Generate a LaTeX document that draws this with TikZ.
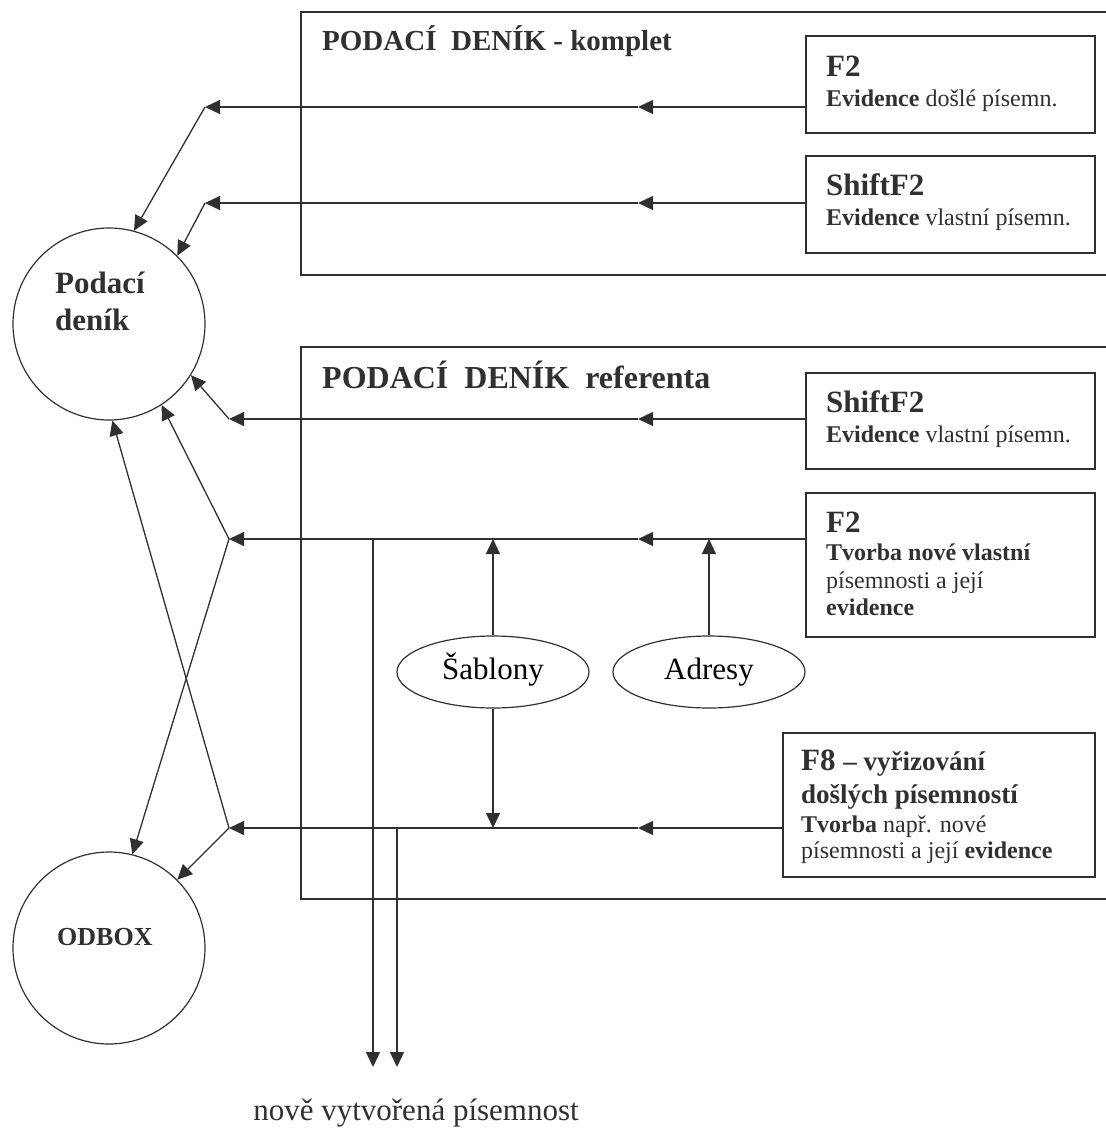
\documentclass[tikz,border=0pt]{standalone}
\usepackage{fontspec}
\setmainfont{Liberation Serif}
\usetikzlibrary{arrows.meta,shapes.geometric}
\definecolor{ink}{HTML}{303033}
\newcommand{\szkey}{\fontsize{31}{36}\selectfont}
\newcommand{\sztit}{\fontsize{29}{34}\selectfont}
\newcommand{\szref}{\fontsize{32}{38}\selectfont}
\newcommand{\szsub}{\fontsize{24}{28}\selectfont}
\newcommand{\szmid}{\fontsize{27}{32}\selectfont}
\newcommand{\szodb}{\fontsize{26}{30}\selectfont}
\tikzset{
  ln/.style={draw=ink, line width=1.3pt},
  arr/.style={ln, -{Triangle[length=15pt,width=14pt]}},
  fbox/.style={draw=ink, line width=1.7pt, rectangle, anchor=north west, inner sep=0pt, minimum width=289pt},
  ring/.style={circle, draw=ink, line width=1.2pt, minimum size=192pt, inner sep=0pt},
  oval/.style={ellipse, draw=ink, line width=1.2pt, minimum width=192pt, minimum height=72pt, inner sep=0pt, font=\szkey, text height=21pt, text depth=7pt},
  txt/.style={anchor=base west, inner sep=0pt, text=ink},
}
\begin{document}
\begin{tikzpicture}[x=1pt, y=-1pt]
\useasboundingbox (0,0) rectangle (1106,1128);

% Podaci denik + ODBOX
\node[ring] (pd) at (109,324) {};
\node[txt, font=\szkey\bfseries] (pdt1) at (55,293) {Podací};
\node[txt, font=\szkey\bfseries] (pdt2) at (55,330) {deník};
\node[ring] (odbox) at (109,948) {};
\node[txt, font=\szodb\bfseries] (odt) at (57,945) {ODBOX};

% Podaci denik - komplet
\draw[ln, line width=1.7pt] (1110,12) -| (301,275) -- (1110,275);
\node[txt, font=\sztit\bfseries] (tk) at (322,50) {PODACÍ\ \ DENÍK - komplet};
\node[fbox, minimum height=97pt] (kF2) at (805,35) {};
\node[txt, font=\szkey\bfseries] at (826,76) {F2};
\node[txt, font=\szsub] at (826,106) {\textbf{Evidence} došlé písemn.};
\node[fbox, minimum height=97pt] (kSh) at (805,155) {};
\node[txt, font=\szkey\bfseries] at (826,195) {ShiftF2};
\node[txt, font=\szsub] at (826,225) {\textbf{Evidence} vlastní písemn.};

% Podaci denik referenta
\draw[ln, line width=1.7pt] (1110,347) -| (301,899) -- (1110,899);
\node[txt, font=\szref\bfseries] (tr) at (322,388) {PODACÍ\ \ DENÍK\ \ referenta};
\node[fbox, minimum height=96pt] (rSh) at (805,372) {};
\node[txt, font=\szkey\bfseries] at (826,412) {ShiftF2};
\node[txt, font=\szsub] at (826,442) {\textbf{Evidence} vlastní písemn.};
\node[fbox, minimum height=144pt] (rF2) at (805,492) {};
\node[txt, font=\szkey\bfseries] at (826,532) {F2};
\node[txt, font=\szsub\bfseries] at (826,560) {Tvorba nové vlastní};
\node[txt, font=\szsub] at (826,588) {písemnosti a její};
\node[txt, font=\szsub\bfseries] at (826,615) {evidence};
\node[fbox, minimum width=312pt, minimum height=144pt] (rF8) at (782,732) {};
\node[txt, font=\szkey\bfseries] at (801,770) {F8 {\szmid – vyřizování}};
\node[txt, font=\szmid\bfseries] at (801,803) {došlých písemností};
\node[txt, font=\szsub] at (801,832) {\textbf{Tvorba} např. nové};
\node[txt, font=\szsub] at (801,858) {písemnosti a její \textbf{evidence}};

\node[oval] (sab) at (493,672) {Šablony};
\node[oval] (adr) at (709,672) {Adresy};

% body spoju
\coordinate (j1) at (205,107);
\coordinate (j2) at (205,203);
\coordinate (j3) at (229,419);
\coordinate (j4) at (229,539);
\coordinate (j5) at (229,828);
\coordinate (m1) at (638,107);
\coordinate (m2) at (638,203);
\coordinate (m3) at (638,419);
\coordinate (m4) at (638,539);
\coordinate (m5) at (638,828);
\coordinate (o1) at (373,1067);
\coordinate (o2) at (397,1067);

% sipky
\draw[arr] (kF2.west |- j1) -- (m1);
\draw[arr] (m1) -- (j1);
\draw[arr] (j1) -- (pd.75);
\draw[arr] (kSh.west |- j2) -- (m2);
\draw[arr] (m2) -- (j2);
\draw[arr] (j2) -- (pd.45);
\draw[arr] (rSh.west |- j3) -- (m3);
\draw[arr] (m3) -- (j3);
\draw[arr] (j3) -- (pd.-32);
\draw[arr] (rF2.west |- j4) -- (m4);
\draw[arr] (m4) -- (j4);
\draw[arr] (j4) -- (pd.-57);
\draw[arr] (j4) -- (odbox.76);
\draw[arr] (rF8.west |- j5) -- (m5);
\draw[arr] (m5) -- (j5);
\draw[arr] (j5) -- (pd.-88);
\draw[arr] (j5) -- (odbox.45);

\draw[arr] (sab.north) -- (sab.north |- j4);
\draw[arr] (sab.south) -- (sab.south |- j5);
\draw[arr] (adr.north) -- (adr.north |- j4);

\draw[arr] (o1 |- j4) -- (o1);
\draw[arr] (o2 |- j5) -- (o2);
\node[anchor=base, inner sep=0pt, text=ink, font=\szkey] (nova) at (416,1120) {nově vytvořená písemnost};

\end{tikzpicture}
\end{document}
